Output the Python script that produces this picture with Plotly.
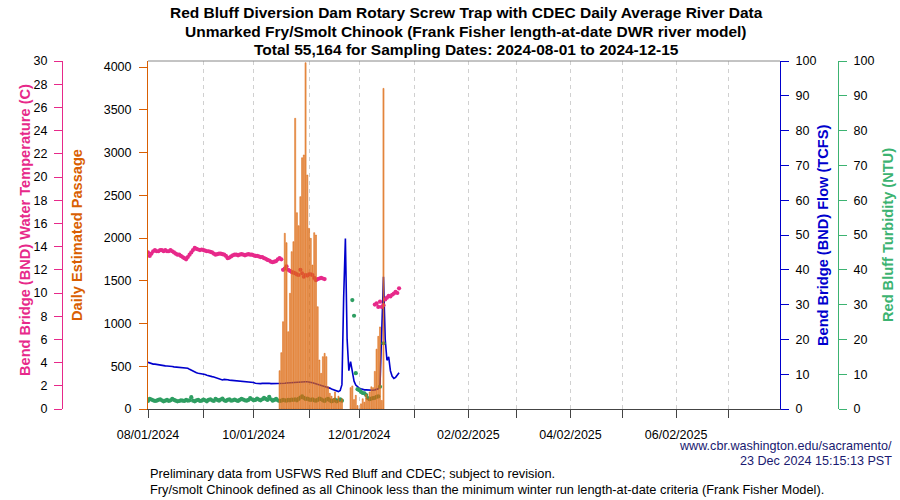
import plotly.graph_objects as go
import pandas as pd

# ---------------- data ----------------
temp_start = "2024-08-01"
temp_aug_nov = [
    13.5, 13.2, 13.4, 13.6, 13.7, 13.6, 13.6, 13.7, 13.7, 13.6,
    13.7, 13.6, 13.6, 13.7, 13.6, 13.5, 13.4, 13.3, 13.3, 13.2,
    13.1, 13.0, 12.9, 13.1, 13.3, 13.5, 13.7, 13.9, 13.8, 13.75,
    13.7, 13.75, 13.7, 13.65, 13.6, 13.6, 13.55, 13.5, 13.4, 13.3,
    13.35, 13.4, 13.4, 13.35, 13.3, 13.2, 13.0, 13.05, 13.15, 13.25,
    13.3, 13.3, 13.25, 13.3, 13.35, 13.3, 13.25, 13.3, 13.35, 13.3,
    13.3, 13.25, 13.2, 13.2, 13.15, 13.1, 13.1, 13.0, 12.95, 12.85,
    12.8, 12.7, 12.65, 12.7, 12.75, 12.9, 13.0, 12.9, 12.0, 12.1,
    12.3, 12.0, 11.9, 11.8, 11.75, 11.7, 11.6, 11.55, 12.0, 11.7,
    11.4, 11.55, 11.5, 11.6, 11.6, 11.55, 11.3, 11.1, 11.2, 11.25,
    11.3, 11.25, 11.2,
]
temp_dec_start = "2024-12-10"
temp_dec = [9.0, 9.1, 8.8, 9.25, 8.8, 8.95, 9.45, 9.6, 9.75, 9.7, 9.85, 9.95, 10.1, 10.0, 10.4]

flow_start = "2024-08-01"
flow_tcfs = [
    13.4, 13.2, 13.0, 12.9, 12.9, 12.8, 12.8, 12.5, 12.45, 12.4,
    12.4, 12.35, 12.35, 12.3, 12.2, 12.1, 12.05, 12.0, 11.9, 11.85,
    11.8, 11.75, 11.7, 11.7, 11.4, 11.1, 10.9, 10.6, 10.4, 10.25,
    10.2, 10.05, 9.95, 9.9, 9.7, 9.5, 9.35, 9.3, 9.2, 9.0,
    8.8, 8.6, 8.4, 8.35, 8.5, 8.55, 8.4, 8.3, 8.25, 8.2,
    8.1, 8.05, 8.05, 8.0, 7.95, 7.9, 7.9, 7.85, 7.85, 7.85,
    7.8, 7.6, 7.4, 7.3, 7.3, 7.3, 7.35, 7.4, 7.35, 7.4,
    7.4, 7.3, 7.3, 7.35, 7.3, 7.2, 7.2, 7.25, 7.3, 7.4,
    7.45, 7.5, 7.55, 7.6, 7.7, 7.75, 7.8, 7.85, 7.85, 7.9,
    7.9, 7.85, 7.85, 7.8, 7.7, 7.55, 7.4, 7.2, 7.0, 6.9,
    6.75, 6.6, 6.45, 6.35, 6.2, 6.0, 5.75, 5.6, 5.4, 5.2,
    5.0, 5.3, 7.0, 32.0, 49.0, 20.0, 11.0, 13.6, 10.5, 8.0,
    6.9, 6.4, 6.0, 5.8, 5.6, 5.5, 5.5, 5.45, 5.45, 5.4,
    5.4, 5.5, 5.6, 5.8, 7.0, 25.0, 38.0, 20.0, 14.0, 15.0,
    11.0, 9.4, 8.8, 9.1, 9.9, 10.4,
]

turb_start = "2024-08-01"
turb_aug_nov = [
    2.3, 2.9, 2.7, 2.5, 2.3, 2.4, 2.6, 2.8, 2.5, 2.2,
    2.4, 2.6, 2.3, 2.5, 2.9, 2.6, 2.4, 2.2, 2.3, 2.5,
    2.4, 2.3, 2.6, 2.4, 2.5, 3.4, 2.4, 2.2, 2.5, 2.6,
    2.3, 2.4, 2.7, 2.5, 2.2, 2.6, 2.8, 2.5, 2.3, 2.9,
    2.6, 2.4, 2.7, 3.0, 2.5, 2.3, 2.6, 2.8, 2.4, 2.5,
    2.7, 2.5, 2.3, 2.6, 2.9, 2.7, 2.5, 2.4, 2.6, 3.1,
    2.8, 2.5, 2.6, 3.0, 2.7, 2.5, 2.8, 3.2, 2.9, 2.6,
    3.5, 2.8, 2.4, 2.6, 2.9, 2.5, 2.3, 2.4, 2.6, 2.5,
    2.4, 2.6, 2.5, 2.7, 2.6, 2.8, 2.5, 2.9, 3.3, 3.6,
    3.2, 2.9, 3.0, 2.7, 2.6, 2.8, 2.5, 2.4, 2.6, 3.0,
    2.8, 2.5, 2.3, 2.7, 2.9, 2.5, 2.2, 2.4, 2.7, 2.2,
    2.5, 2.8, 2.4,
]
turb_dec_start = "2024-11-27"
turb_dec = [31.3, 26.8, 10.3, 5.7, 5.4, 4.9, 4.6, 4.5, 4.0, 3.1,
            2.8, 3.0, 3.1, 3.2, 3.5, 3.6, 6.4, None, 18.9]

passage_a_start = "2024-10-16"
passage_a = [
    448, 659, 1021, 2055, 1945, 904, 1353, 1840, 1957, 3400,
    2296, 2144, 2483, 2939, 2971, 4050, 2737, 2113, 1996, 1684,
    2062, 2035, 1196, 573, 417, 612, 651, 612, 261, 183,
    150, 120, 200, 100, 150, 90, 120,
]
passage_b_start = "2024-11-26"
passage_b = [250, 270, 110, 160, 40, 0, 60, 120, 80, 170,
             120, 200, 260, 250, 440, 700, 850, 960, 100, 3750]

x_tick_dates = ["2024-08-01", "2024-09-02", "2024-10-01", "2024-11-02", "2024-12-01",
                "2025-01-02", "2025-02-02", "2025-03-02", "2025-04-02", "2025-05-02",
                "2025-06-02", "2025-07-02"]
x_tick_text = ["08/01/2024", "", "10/01/2024", "", "12/01/2024", "", "02/02/2025", "",
               "04/02/2025", "", "06/02/2025", ""]

title_lines = [
    "Red Bluff Diversion Dam Rotary Screw Trap with CDEC Daily Average River Data",
    "Unmarked Fry/Smolt Chinook (Frank Fisher length-at-date DWR river model)",
    "Total 55,164 for Sampling Dates: 2024-08-01 to 2024-12-15",
]
footnotes = [
    "Preliminary data from USFWS Red Bluff and CDEC; subject to revision.",
    "Fry/smolt Chinook defined as all Chinook less than the minimum winter run length-at-date criteria (Frank Fisher Model).",
]
credit_lines = ["www.cbr.washington.edu/sacramento/", "23 Dec 2024 15:15:13 PST"]

# ---------------- styling ----------------
PINK = "#E7298A"
ORANGE = "#D95F02"
BLUE = "#0000CD"
GREEN = "#2E9E62"
GREEN_T = "#3CB371"
FONT = "Liberation Sans, Arial, Helvetica, sans-serif"

W, H = 900, 500
PL, PR, PT, PB = 148, 780, 61, 409


def px(x):
    return x / W


def py(y):
    return 1 - y / H


def dates(start, n):
    return pd.date_range(start, periods=n, freq="D")


fig = go.Figure()

# flow (base axis, right side)
fig.add_trace(go.Scatter(x=dates(flow_start, len(flow_tcfs)), y=flow_tcfs, mode="lines",
                         line=dict(color=BLUE, width=1.6), yaxis="y", showlegend=False))
# temperature
fig.add_trace(go.Scatter(x=dates(temp_start, len(temp_aug_nov)), y=temp_aug_nov, mode="markers",
                         marker=dict(color=PINK, size=4.2), yaxis="y2", showlegend=False))
fig.add_trace(go.Scatter(x=dates(temp_dec_start, len(temp_dec)), y=temp_dec, mode="markers",
                         marker=dict(color=PINK, size=4.2), yaxis="y2", showlegend=False))
# turbidity
fig.add_trace(go.Scatter(x=dates(turb_start, len(turb_aug_nov)), y=turb_aug_nov, mode="markers",
                         marker=dict(color=GREEN, size=4.2), yaxis="y3", showlegend=False))
fig.add_trace(go.Scatter(x=dates(turb_dec_start, len(turb_dec)), y=turb_dec, mode="markers",
                         marker=dict(color=GREEN, size=4.2), yaxis="y3", showlegend=False))
# passage bars (drawn on top, semi-transparent)
day_ms = 86400000
for start, vals in [(passage_a_start, passage_a), (passage_b_start, passage_b)]:
    fig.add_trace(go.Bar(x=dates(start, len(vals)), y=vals, yaxis="y4",
                         width=day_ms * 0.62,
                         marker=dict(color="rgba(228,128,48,0.75)",
                                     line=dict(color=ORANGE, width=0.5)),
                         showlegend=False))

tickfont = dict(family=FONT, size=12.5, color="black")

fig.update_layout(
    width=W, height=H, autosize=False,
    margin=dict(l=0, r=0, t=0, b=0, pad=0, autoexpand=False),
    paper_bgcolor="white", plot_bgcolor="white",
    font=dict(family=FONT, size=12, color="black"),
    bargap=0.1,
    xaxis=dict(
        domain=[px(PL), px(PR)], range=["2024-08-01", "2025-08-01"],
        tickmode="array", tickvals=x_tick_dates, ticktext=x_tick_text,
        showline=True, linecolor="#444", linewidth=1,
        ticks="outside", ticklen=8, tickcolor="#444", tickfont=tickfont,
        ticklabelstandoff=6, automargin=False,
        showgrid=True, gridcolor="#D0D0D0", griddash="4px,4px", gridwidth=1,
        zeroline=False, anchor="y",
    ),
    yaxis=dict(  # flow
        domain=[py(PB), py(PT)], range=[0, 100], side="right", anchor="x",
        tickmode="linear", tick0=0, dtick=10, automargin=False,
        showline=True, linecolor=BLUE, linewidth=1, ticklabelstandoff=4,
        ticks="outside", ticklen=8, tickcolor=BLUE, tickfont=tickfont,
        showgrid=False, zeroline=False,
    ),
    yaxis2=dict(  # temperature
        range=[0, 30], overlaying="y", anchor="free", position=px(62), side="left",
        tickmode="linear", tick0=0, dtick=2, automargin=False,
        showline=True, linecolor=PINK, linewidth=1, ticklabelstandoff=4,
        ticks="outside", ticklen=8, tickcolor=PINK, tickfont=tickfont,
        showgrid=False, zeroline=False,
    ),
    yaxis3=dict(  # turbidity
        range=[0, 100], overlaying="y", anchor="free", position=px(838), side="right",
        tickmode="linear", tick0=0, dtick=10, automargin=False,
        showline=True, linecolor=GREEN_T, linewidth=1, ticklabelstandoff=4,
        ticks="outside", ticklen=8, tickcolor=GREEN_T, tickfont=tickfont,
        showgrid=False, zeroline=False,
    ),
    yaxis4=dict(  # passage
        range=[0, 4000 * (PB - PT) / (409 - 67)], overlaying="y", anchor="x", side="left",
        tickmode="array", tickvals=[0, 500, 1000, 1500, 2000, 2500, 3000, 3500, 4000],
        automargin=False, ticklabelstandoff=5,
        showline=True, linecolor=ORANGE, linewidth=1,
        ticks="outside", ticklen=8, tickcolor=ORANGE, tickfont=tickfont,
        showgrid=False, zeroline=False,
    ),
)

# top border of plot frame
fig.add_shape(type="line", xref="paper", yref="paper",
              x0=px(PL), x1=px(PR), y0=py(PT), y1=py(PT),
              line=dict(color="#888888", width=1))

ann = []
for t, yy in zip(title_lines, [12, 31, 50]):
    ann.append(dict(text="<b>%s</b>" % t, x=px(466), y=py(yy), xref="paper", yref="paper",
                    xanchor="center", yanchor="middle", showarrow=False,
                    font=dict(family=FONT, size=15.5, color="black")))

axis_titles = [
    ("Bend Bridge (BND) Water Temperature (C)", 25, 230, PINK),
    ("Daily Estimated Passage", 77, 235, ORANGE),
    ("Bend Bridge (BND) Flow (TCFS)", 823, 236, BLUE),
    ("Red Bluff Turbidity (NTU)", 888, 235, GREEN_T),
]
for t, xx, yy, c in axis_titles:
    ann.append(dict(text="<b>%s</b>" % t, x=px(xx), y=py(yy), xref="paper", yref="paper",
                    xanchor="center", yanchor="middle", textangle=-90, showarrow=False,
                    font=dict(family=FONT, size=14.6, color=c)))

for t, yy in zip(footnotes, [473, 489]):
    ann.append(dict(text=t, x=px(148), y=py(yy), xref="paper", yref="paper",
                    xanchor="left", yanchor="middle", showarrow=False,
                    font=dict(family=FONT, size=12.8, color="black")))
for t, yy in zip(credit_lines, [446, 461]):
    ann.append(dict(text=t, x=px(894), y=py(yy), xref="paper", yref="paper",
                    xanchor="right", yanchor="middle", showarrow=False,
                    font=dict(family=FONT, size=12.6, color="#191970")))

fig.update_layout(annotations=ann)

fig.write_html(
    "out.html",
    config={"displayModeBar": False},
    post_script="document.body.style.margin='0px';document.body.style.overflow='hidden';",
)
